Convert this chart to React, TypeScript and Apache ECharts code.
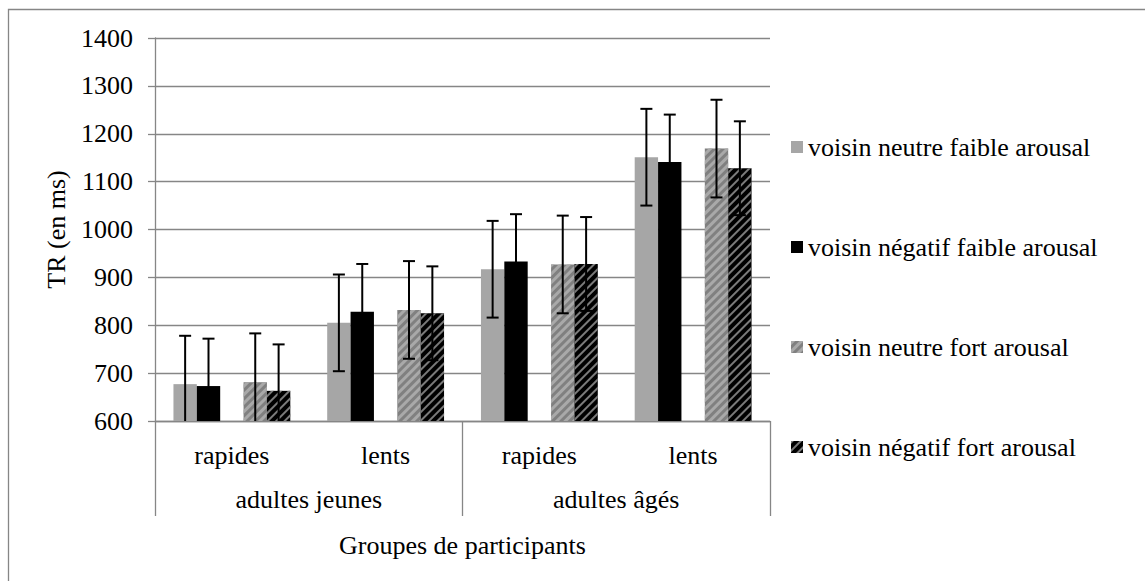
import React, { useEffect, useRef } from "react";
import * as echarts from "echarts";

const subgroups = ["rapides", "lents", "rapides", "lents"];
const groups = ["adultes jeunes", "adultes âgés"];
const seriesNames = [
  "voisin neutre faible arousal",
  "voisin négatif faible arousal",
  "voisin neutre fort arousal",
  "voisin négatif fort arousal",
];
const neutreFaible = [677, 805, 917, 1151];
const negatifFaible = [673, 828, 933, 1141];
const neutreFort = [681, 832, 927, 1169];
const negatifFort = [663, 825, 928, 1128];
const errNeutreFaible = [101, 101, 101, 101];
const errNegatifFaible = [99, 100, 99, 99];
const errNeutreFort = [102, 102, 102, 102];
const errNegatifFort = [97, 98, 98, 98];
const Y_MIN = 600;
const Y_MAX = 1400;
const Y_STEP = 100;

const FONT = "Liberation Serif";
const GRAY = "#868686";
const SLOTS = 5;
const CAT_GAP = 0.24;

const values = [neutreFaible, negatifFaible, neutreFort, negatifFort];
const errors = [errNeutreFaible, errNegatifFaible, errNeutreFort, errNegatifFort];
const slotOf = [0, 1, 3, 4];

const styles = [
  { color: "#a6a6a6" },
  { color: "#000000" },
  {
    color: "#808080",
    decal: {
      symbol: "rect",
      symbolSize: 1,
      dashArrayX: [1, 0],
      dashArrayY: [3, 3],
      rotation: -Math.PI / 4,
      color: "#a9a9a9",
    },
  },
  {
    color: "#000000",
    decal: {
      symbol: "rect",
      symbolSize: 1,
      dashArrayX: [1, 0],
      dashArrayY: [2, 4],
      rotation: -Math.PI / 4,
      color: "#7a7a7a",
    },
  },
];

function errorSeries(k: number) {
  const slot = slotOf[k];
  return {
    type: "custom",
    name: "err" + k,
    xAxisIndex: 0,
    yAxisIndex: 0,
    z: 10,
    encode: { x: 0, y: [1, 2] },
    data: values[k].map((v, i) => [i, v - errors[k][i], v + errors[k][i]]),
    renderItem: (params: any, api: any) => {
      const idx = api.value(0);
      const lo = api.value(1);
      const hi = api.value(2);
      const catW = api.size([1, 0])[0];
      const bw = (catW * (1 - CAT_GAP)) / SLOTS;
      const cx = api.coord([idx, Y_MIN])[0] + (slot - (SLOTS - 1) / 2) * bw;
      const loC = Math.max(lo, Y_MIN);
      const yLo = api.coord([idx, loC])[1];
      const yHi = api.coord([idx, hi])[1];
      const st = { stroke: "#000", lineWidth: 2 };
      const cap = 6;
      const children: any[] = [
        { type: "line", shape: { x1: cx, y1: yLo, x2: cx, y2: yHi }, style: st },
        { type: "line", shape: { x1: cx - cap, y1: yHi, x2: cx + cap, y2: yHi }, style: st },
      ];
      if (lo >= Y_MIN) {
        children.push({ type: "line", shape: { x1: cx - cap, y1: yLo, x2: cx + cap, y2: yLo }, style: st });
      }
      return { type: "group", children };
    },
  };
}

export default function App() {
  const ref = useRef<HTMLDivElement>(null);
  useEffect(() => {
    if (!ref.current) return;
    const chart = echarts.init(ref.current, null, { renderer: "svg" });
    const barSeries: any[] = [];
    for (let k = 0; k < 4; k++) {
      if (k === 2) {
        barSeries.push({
          type: "bar",
          name: "_spacer",
          xAxisIndex: 0,
          data: subgroups.map(() => "-"),
          barGap: "0%",
          barCategoryGap: CAT_GAP * 100 + "%",
        });
      }
      barSeries.push({
        type: "bar",
        name: seriesNames[k],
        xAxisIndex: 0,
        data: values[k],
        barGap: "0%",
        barCategoryGap: CAT_GAP * 100 + "%",
        itemStyle: styles[k],
      });
    }
    const txt = () => ({ fontFamily: FONT, fontSize: 26, color: "#000" });
    const option: any = {
      animation: false,
      backgroundColor: "#ffffff",
      textStyle: { fontFamily: FONT },
      grid: { left: 155, right: 375, top: 38, bottom: 160, containLabel: false },
      legend: {
        data: seriesNames,
        orient: "vertical",
        left: 786,
        top: 129,
        itemWidth: 12,
        itemHeight: 12,
        itemGap: 74,
        icon: "rect",
        textStyle: txt(),
        selectedMode: false,
      },
      xAxis: [
        {
          type: "category",
          data: subgroups,
          position: "bottom",
          axisLine: { show: true, lineStyle: { color: GRAY, width: 1.3 } },
          axisTick: { show: false },
          axisLabel: { margin: 21, ...txt() },
          name: "Groupes de participants",
          nameLocation: "middle",
          nameGap: 111,
          nameTextStyle: txt(),
        },
        {
          type: "category",
          data: groups,
          position: "bottom",
          offset: 0,
          axisLine: { show: false },
          axisTick: { show: true, length: 95, lineStyle: { color: GRAY, width: 1.3 } },
          axisLabel: { margin: 65, ...txt() },
        },
      ],
      yAxis: {
        type: "value",
        min: Y_MIN,
        max: Y_MAX,
        interval: Y_STEP,
        axisLine: { show: true, lineStyle: { color: GRAY, width: 1.3 } },
        axisTick: { show: true, length: 7, lineStyle: { color: GRAY, width: 1.3 } },
        splitLine: { show: true, lineStyle: { color: GRAY, width: 1.3 } },
        axisLabel: { margin: 22, ...txt(), formatter: (v: number) => String(v) },
        name: "TR (en ms)",
        nameLocation: "middle",
        nameGap: 86,
        nameRotate: 90,
        nameTextStyle: txt(),
      },
      graphic: [
        {
          type: "rect",
          silent: true,
          shape: { x: 8.5, y: 9.5, width: 1150, height: 600 },
          style: { fill: "none", stroke: GRAY, lineWidth: 1.3 },
        },
      ],
      series: [...barSeries, ...[0, 1, 2, 3].map(errorSeries)],
    };
    chart.setOption(option);
    return () => chart.dispose();
  }, []);
  return (
    <div
      ref={ref}
      style={{ position: "absolute", left: 0, top: 0, width: 1145, height: 581 }}
    />
  );
}
